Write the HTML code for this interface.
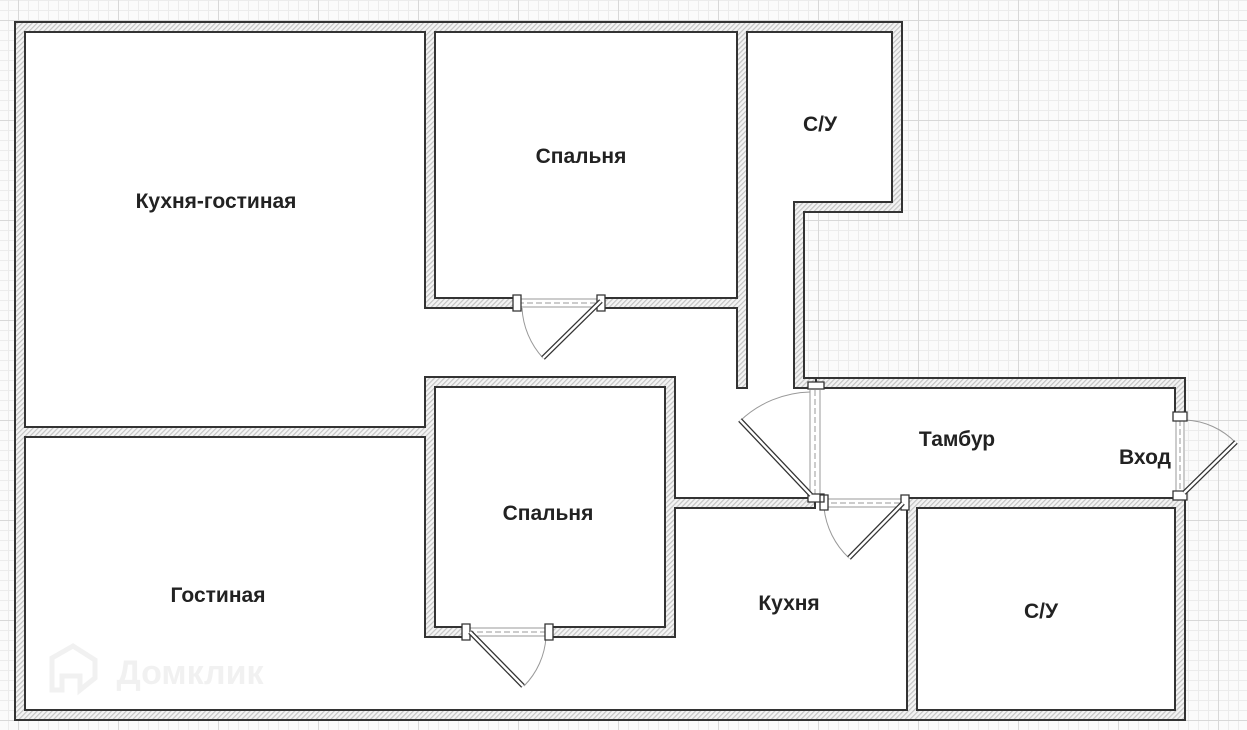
<!DOCTYPE html>
<html><head><meta charset="utf-8"><style>
html,body{margin:0;padding:0;background:#fff;}
svg{display:block;}
text{font-family:"Liberation Sans",sans-serif;font-weight:bold;fill:#222;font-size:21px;text-anchor:middle;}
</style></head><body>
<svg width="1247" height="730" viewBox="0 0 1247 730" xmlns="http://www.w3.org/2000/svg">
<defs>
<pattern id="g" width="10" height="10" x="8" y="0" patternUnits="userSpaceOnUse">
<path d="M0 0.5H10M0.5 0V10" stroke="#ececec" stroke-width="1"/>
</pattern>
<pattern id="G" width="100" height="100" x="18" y="20" patternUnits="userSpaceOnUse">
<path d="M0 0.5H100M0.5 0V100" stroke="#d8d8d8" stroke-width="1"/>
</pattern>
<pattern id="h" width="3.5" height="3.5" patternUnits="userSpaceOnUse" patternTransform="rotate(45)">
<rect width="3.5" height="3.5" fill="#f4f4f4"/><rect width="1.2" height="3.5" fill="#c4c4c4"/>
</pattern>
</defs>
<rect width="1247" height="730" fill="#fbfbfb"/>
<rect width="1247" height="730" fill="url(#g)"/>
<rect width="1247" height="730" fill="url(#G)"/>
<polygon points="15,22 902,22 902,212 804,212 804,378 1185,378 1185,720 15,720" fill="#fff"/>

<g id="walls" stroke="#333" stroke-width="2" fill="url(#h)">
<rect x="15" y="22" width="887" height="10"/>
<rect x="15" y="22" width="10" height="698"/>
<rect x="15" y="710" width="1170" height="10"/>
<rect x="892" y="22" width="10" height="190"/>
<rect x="794" y="202" width="108" height="10"/>
<rect x="794" y="202" width="10" height="186"/>
<rect x="794" y="378" width="22" height="10"/>
<rect x="1175" y="378" width="10" height="40"/>
<rect x="816" y="378" width="369" height="10"/>
<rect x="1175" y="493" width="10" height="227"/>
<rect x="737" y="22" width="10" height="366"/>
<rect x="425" y="22" width="10" height="286"/>
<rect x="425" y="298" width="92" height="10"/>
<rect x="603" y="298" width="144" height="10"/>
<rect x="15" y="427" width="420" height="10"/>
<rect x="425" y="377" width="250" height="10"/>
<rect x="425" y="377" width="10" height="260"/>
<rect x="665" y="377" width="10" height="260"/>
<rect x="425" y="627" width="42" height="10"/>
<rect x="549" y="627" width="126" height="10"/>
<rect x="665" y="498" width="150" height="10"/>
<rect x="907" y="498" width="278" height="10"/>
<rect x="907" y="498" width="10" height="222"/>
</g>
<g fill="url(#h)">
<rect x="16" y="23" width="885" height="8"/>
<rect x="16" y="23" width="8" height="696"/>
<rect x="16" y="711" width="1168" height="8"/>
<rect x="893" y="23" width="8" height="188"/>
<rect x="795" y="203" width="106" height="8"/>
<rect x="795" y="203" width="8" height="184"/>
<rect x="795" y="379" width="20" height="8"/>
<rect x="1176" y="379" width="8" height="38"/>
<rect x="817" y="379" width="367" height="8"/>
<rect x="1176" y="494" width="8" height="225"/>
<rect x="738" y="23" width="8" height="364"/>
<rect x="426" y="23" width="8" height="284"/>
<rect x="426" y="299" width="90" height="8"/>
<rect x="604" y="299" width="142" height="8"/>
<rect x="16" y="428" width="418" height="8"/>
<rect x="426" y="378" width="248" height="8"/>
<rect x="426" y="378" width="8" height="258"/>
<rect x="666" y="378" width="8" height="258"/>
<rect x="426" y="628" width="40" height="8"/>
<rect x="550" y="628" width="124" height="8"/>
<rect x="666" y="499" width="148" height="8"/>
<rect x="908" y="499" width="276" height="8"/>
<rect x="908" y="499" width="8" height="220"/>
</g>

<g fill="none" stroke="#999" stroke-width="1">
<line x1="518" y1="299" x2="602" y2="299"/>
<line x1="518" y1="303" x2="602" y2="303" stroke-dasharray="6,3"/>
<line x1="518" y1="307" x2="602" y2="307"/>
<path d="M522 308 A80 80 0 0 0 543 358"/>
<line x1="468" y1="628" x2="548" y2="628"/>
<line x1="468" y1="632" x2="548" y2="632" stroke-dasharray="6,3"/>
<line x1="468" y1="636" x2="548" y2="636"/>
<path d="M546 637 A76 76 0 0 1 524 686"/>
<line x1="810" y1="390" x2="810" y2="495"/>
<line x1="815" y1="390" x2="815" y2="495" stroke-dasharray="6,3"/>
<line x1="820" y1="390" x2="820" y2="495"/>
<path d="M810 392 A105 105 0 0 0 740 421"/>
<line x1="822" y1="499" x2="905" y2="499"/>
<line x1="822" y1="503" x2="905" y2="503" stroke-dasharray="6,3"/>
<line x1="822" y1="507" x2="905" y2="507"/>
<path d="M824 508 A80 80 0 0 0 849 558"/>
<line x1="1176" y1="420" x2="1176" y2="492"/>
<line x1="1180" y1="420" x2="1180" y2="492" stroke-dasharray="6,3"/>
<line x1="1184" y1="420" x2="1184" y2="492"/>
<path d="M1185 420 A74 74 0 0 1 1236 443"/>
</g>
<g stroke="#333" stroke-width="1.3" fill="#fff">
<path d="M513 295h8v16h-8z M597 295h8v16h-8z"/>
<path d="M462 624h8v16h-8z M545 624h8v16h-8z"/>
<path d="M808 382h16v7h-16z M808 494h16v8h-16z M820 495h8v15h-8z M901 495h8v15h-8z"/>
<path d="M1173 412h14v9h-14z M1173 491h14v9h-14z"/>
</g>
<g stroke="#333" stroke-width="5">
<line x1="601" y1="301" x2="543" y2="358"/>
<line x1="470" y1="632" x2="523" y2="686"/>
<line x1="811" y1="495" x2="740" y2="420"/>
<line x1="903" y1="503" x2="849" y2="558"/>
<line x1="1184" y1="493" x2="1236" y2="442"/>
</g>
<g stroke="#fff" stroke-width="2.4">
<line x1="601" y1="301" x2="543" y2="358"/>
<line x1="470" y1="632" x2="523" y2="686"/>
<line x1="811" y1="495" x2="740" y2="420"/>
<line x1="903" y1="503" x2="849" y2="558"/>
<line x1="1184" y1="493" x2="1236" y2="442"/>
</g>

<g>
<path d="M52 658 L73 646 L95 660 L95 678 L80 690 L80 676 L62 676 L62 690 L52 690 Z" fill="none" stroke="#f1f1f1" stroke-width="5"/>
<text x="190" y="684" style="fill:#f1f1f1;font-size:34px;">Домклик</text>
</g>

<text x="216" y="208">Кухня-гостиная</text>
<text x="581" y="163">Спальня</text>
<text x="820" y="131">С/У</text>
<text x="957" y="446">Тамбур</text>
<text x="1145" y="464">Вход</text>
<text x="548" y="520">Спальня</text>
<text x="218" y="602">Гостиная</text>
<text x="789" y="610">Кухня</text>
<text x="1041" y="618">С/У</text>
</svg>
</body></html>
